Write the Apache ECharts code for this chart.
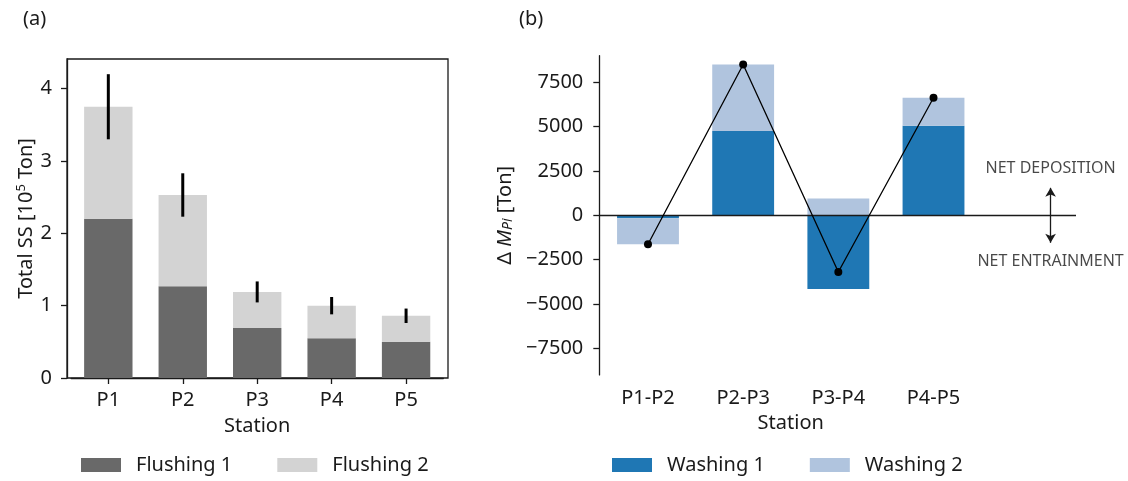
<!DOCTYPE html>
<html>
<head>
<meta charset="utf-8">
<script src="https://cdn.jsdelivr.net/npm/echarts@6/dist/echarts.min.js"></script>
<style>
  html, body { margin: 0; padding: 0; background: #fff; }
  #main { width: 1128px; height: 481px; }
</style>
</head>
<body>
<div id="main"></div>
<script>
// panel (a): total suspended solids per station [10^5 Ton]
var stations = ['P1', 'P2', 'P3', 'P4', 'P5'];
var flushing1 = [2.2, 1.27, 0.69, 0.55, 0.5];
var flushing2 = [1.55, 1.26, 0.5, 0.45, 0.36];
var flushErr = [0.45, 0.3, 0.145, 0.12, 0.1];
var ssTicks = [0, 1, 2, 3, 4];

// panel (b): mass change between stations [Ton]
var segments = ['P1-P2', 'P2-P3', 'P3-P4', 'P4-P5'];
var washing1 = [-170, 4750, -4150, 5050];
var washing2 = [-1460, 3750, 950, 1580];
var netMass = [-1630, 8500, -3200, 6630];
var dmTicks = [-7500, -5000, -2500, 0, 2500, 5000, 7500];

// annotation (b): arrow between deposition / entrainment labels
var noteX = 4.23;
var arrowY = [1550, -1550];
var noteTexts = ['NET DEPOSITION', 'NET ENTRAINMENT'];
var noteY = [2650, -2620];

var FONT = 'Noto Sans';
var INK = '#1a1a1a';

var chart = echarts.init(document.getElementById('main'), null, {renderer: 'canvas'});

var minus = function(v){ return v < 0 ? '\u2212' + Math.abs(v) : String(v); };

var errData = flushErr.map(function(e, i){
    var top = flushing1[i] + flushing2[i];
    return [i, top - e, top + e];
});

var axisLineStyle = { color: INK, width: 1.3 };

chart.setOption({
    textStyle: { fontFamily: FONT, color: INK },
    animation: false,
    title: [
        { text: '(a)', left: 18, top: 4, textStyle: { fontFamily: FONT, fontSize: 20, fontWeight: 'normal', color: INK } },
        { text: '(b)', left: 514, top: 4, textStyle: { fontFamily: FONT, fontSize: 20, fontWeight: 'normal', color: INK } }
    ],
    legend: [{
        data: ['Flushing 1', 'Flushing 2'],
        left: 81, top: 455, padding: 0,
        itemWidth: 40, itemHeight: 14, itemGap: 45,
        icon: 'rect',
        textStyle: { fontFamily: FONT, fontSize: 20, color: INK, padding: [0, 0, 0, 10] }
    }, {
        data: ['Washing 1', 'Washing 2'],
        left: 612, top: 455, padding: 0,
        itemWidth: 40, itemHeight: 14, itemGap: 45,
        icon: 'rect',
        textStyle: { fontFamily: FONT, fontSize: 20, color: INK, padding: [0, 0, 0, 10] }
    }],
    grid: [
        // 0: bars of (a)
        { left: 71.1, top: 59, width: 372.2, height: 319 },
        // 1: bars of (b)
        { left: 600.4, top: 55.7, width: 380.7, height: 319.2 },
        // 2: frame and y axis of (a)
        { left: 67, top: 59, width: 381, height: 319,
          show: true, borderColor: INK, borderWidth: 1.3, backgroundColor: 'transparent' },
        // 3: y axis, zero line and notes of (b)
        { left: 599.3, top: 55.7, width: 476.7, height: 319.2 }
    ],
    xAxis: [{
        gridIndex: 0, type: 'category', data: stations,
        name: 'Station', nameLocation: 'middle', nameGap: 38,
        nameTextStyle: { fontFamily: FONT, fontSize: 20, color: INK },
        axisLine: { show: true, lineStyle: axisLineStyle },
        axisTick: { show: true, length: 6, alignWithLabel: true, lineStyle: axisLineStyle },
        axisLabel: { margin: 12, fontSize: 20, color: INK },
        splitLine: { show: false }
    }, {
        gridIndex: 1, type: 'category', data: segments,
        name: 'Station', nameLocation: 'middle', nameGap: 38,
        nameTextStyle: { fontFamily: FONT, fontSize: 20, color: INK },
        axisLine: { show: false },
        axisTick: { show: false },
        axisLabel: { margin: 13, fontSize: 20, color: INK },
        splitLine: { show: false }
    }, {
        gridIndex: 2, type: 'value', min: 0, max: 1, show: false
    }, {
        gridIndex: 3, type: 'value', min: -0.5117, max: 4.497, show: false
    }],
    yAxis: [{
        gridIndex: 0, type: 'value', min: 0, max: 4.41, show: false
    }, {
        gridIndex: 1, type: 'value', min: -9000, max: 9000, show: false
    }, {
        gridIndex: 2, type: 'value', min: 0, max: 4.41,
        name: '{a|Total SS [10}{sup|5}{a| Ton]}', nameLocation: 'middle', nameGap: 30, nameRotate: 90,
        nameTextStyle: { rich: {
            a: { fontFamily: FONT, fontSize: 20, color: INK },
            sup: { fontFamily: FONT, fontSize: 13, color: INK, padding: [0, 0, 9, 0] }
        } },
        axisLine: { show: true, onZero: false, lineStyle: axisLineStyle },
        axisTick: { show: true, length: 6, customValues: ssTicks, lineStyle: axisLineStyle },
        axisLabel: { customValues: ssTicks, margin: 15, fontSize: 20, color: INK },
        splitLine: { show: false }
    }, {
        gridIndex: 3, type: 'value', min: -9000, max: 9000,
        name: '{n|\u0394 }{i|M}{s|Pi}{n| [Ton]}', nameLocation: 'middle', nameGap: 84, nameRotate: 90,
        nameTextStyle: { rich: {
            n: { fontFamily: FONT, fontSize: 20, color: INK },
            i: { fontFamily: FONT, fontSize: 20, fontStyle: 'italic', color: INK },
            s: { fontFamily: FONT, fontSize: 14, fontStyle: 'italic', color: INK, padding: [6, 0, 0, 0] }
        } },
        axisLine: { show: true, onZero: false, lineStyle: axisLineStyle },
        axisTick: { show: true, length: 6, customValues: dmTicks, lineStyle: axisLineStyle },
        axisLabel: { customValues: dmTicks, margin: 16, fontSize: 20, color: INK, formatter: minus },
        splitLine: { show: false }
    }],
    series: [{
        name: 'Flushing 1', type: 'bar', xAxisIndex: 0, yAxisIndex: 0, stack: 'ss',
        barWidth: '65%', itemStyle: { color: '#696969' }, data: flushing1
    }, {
        name: 'Flushing 2', type: 'bar', xAxisIndex: 0, yAxisIndex: 0, stack: 'ss',
        barWidth: '65%', itemStyle: { color: '#d3d3d3' }, data: flushing2
    }, {
        name: 'err', type: 'custom', xAxisIndex: 0, yAxisIndex: 0, silent: true,
        renderItem: function(params, api){
            var p0 = api.coord([api.value(0), api.value(1)]);
            var p1 = api.coord([api.value(0), api.value(2)]);
            return { type: 'line', shape: { x1: p0[0], y1: p0[1], x2: p1[0], y2: p1[1] },
                style: { stroke: '#000', lineWidth: 3 } };
        },
        encode: { x: 0, y: [1, 2] },
        data: errData, z: 5
    }, {
        name: 'Washing 1', type: 'bar', xAxisIndex: 1, yAxisIndex: 1, stack: 'dm',
        barWidth: '65%', itemStyle: { color: '#1f77b4' }, data: washing1
    }, {
        name: 'Washing 2', type: 'bar', xAxisIndex: 1, yAxisIndex: 1, stack: 'dm',
        barWidth: '65%', itemStyle: { color: '#b0c4de' }, data: washing2
    }, {
        name: 'net', type: 'line', xAxisIndex: 1, yAxisIndex: 1,
        data: netMass, symbol: 'circle', symbolSize: 8,
        lineStyle: { color: '#000', width: 1.3 }, itemStyle: { color: '#000' }, z: 5
    }, {
        name: 'notes', type: 'scatter', xAxisIndex: 3, yAxisIndex: 3, symbolSize: 0, silent: true,
        data: noteTexts.map(function(t, i){ return { name: t, value: [noteX, noteY[i]] }; }),
        label: { show: true, position: 'inside', formatter: '{b}', fontFamily: FONT, fontSize: 16, color: INK },
        markLine: {
            silent: true, symbol: ['arrow', 'arrow'], symbolSize: [8, 9], label: { show: false },
            lineStyle: { color: INK, width: 1.3, type: 'solid' },
            data: [
                [{ coord: [-0.5117, 0], symbol: 'none' }, { coord: [4.497, 0], symbol: 'none' }],
                [{ coord: [noteX, arrowY[0]] }, { coord: [noteX, arrowY[1]] }]
            ]
        }
    }]
});
</script>
</body>
</html>
